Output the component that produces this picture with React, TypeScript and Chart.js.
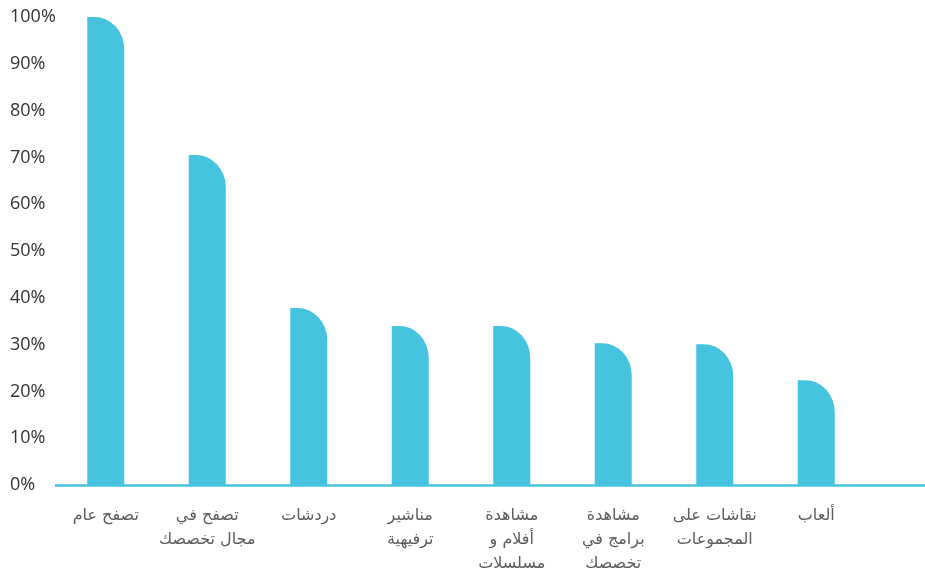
import React, { useEffect, useRef } from "react";
import { Chart, registerables } from "chart.js";

Chart.register(...registerables);

const categories: (string | string[])[] = [
  "تصفح عام",
  ["تصفح في", "مجال تخصصك"],
  "دردشات",
  ["مناشير", "ترفيهية"],
  ["مشاهدة", "أفلام و", "مسلسلات"],
  ["مشاهدة", "برامج في", "تخصصك"],
  ["نقاشات على", "المجموعات"],
  "ألعاب",
];

const values: number[] = [100, 70.5, 37.8, 34, 34, 30.3, 30.1, 22.4];

const yMin = 0;
const yMax = 100;
const yStep = 10;

const BAR_COLOR = "#46c3df";

const roundedTopRight = {
  id: "roundedTopRight",
  afterDatasetsDraw(chart: any) {
    const ctx = chart.ctx;
    const meta = chart.getDatasetMeta(0);
    ctx.save();
    ctx.fillStyle = BAR_COLOR;
    meta.data.forEach((el: any) => {
      const { x, y, base, width } = el.getProps(["x", "y", "base", "width"], true);
      const left = x - width / 2;
      const right = x + width / 2;
      const h = base - y;
      const rx = width * 0.8;
      const ry = Math.min(32, h);
      ctx.beginPath();
      ctx.moveTo(left, base);
      ctx.lineTo(left, y);
      ctx.lineTo(right - rx, y);
      ctx.ellipse(right - rx, y + ry, rx, ry, 0, -Math.PI / 2, 0);
      ctx.lineTo(right, base);
      ctx.closePath();
      ctx.fill();
    });
    const yb = chart.chartArea.bottom + 0.5;
    ctx.strokeStyle = BAR_COLOR;
    ctx.lineWidth = 2.5;
    ctx.beginPath();
    ctx.moveTo(chart.chartArea.left, yb);
    ctx.lineTo(chart.width, yb);
    ctx.stroke();
    ctx.restore();
  },
};

export default function App() {
  const ref = useRef<HTMLCanvasElement | null>(null);
  useEffect(() => {
    document.body.style.margin = "0";
    if (!ref.current) return;
    const chart = new Chart(ref.current, {
      type: "bar",
      data: {
        labels: categories,
        datasets: [
          {
            data: values,
            backgroundColor: "rgba(0,0,0,0)",
            borderWidth: 0,
            barThickness: 37,
          },
        ],
      },
      options: {
        animation: false,
        responsive: true,
        maintainAspectRatio: false,
        layout: { padding: { top: 17, left: 10, right: 58, bottom: 0 } },
        plugins: { legend: { display: false }, tooltip: { enabled: false } },
        scales: {
          x: {
            grid: { display: false },
            border: { display: false },
            ticks: {
              maxRotation: 0,
              autoSkip: false,
              padding: 11,
              color: "#5c5c5c",
              font: { family: "'DejaVu Sans', sans-serif", size: 16, lineHeight: 1.5 },
            },
            afterFit: (scale: any) => {
              scale.height = 87;
            },
          },
          y: {
            min: yMin,
            max: yMax,
            grid: { display: false },
            border: { display: false },
            ticks: {
              stepSize: yStep,
              crossAlign: "far",
              padding: 0,
              color: "#333",
              font: { family: "'Open Sans', sans-serif", size: 18 },
              callback: (v: any) => v + "%",
            },
            afterFit: (scale: any) => {
              scale.width = 45;
            },
          },
        },
      },
      plugins: [roundedTopRight],
    });
    return () => chart.destroy();
  }, []);
  return (
    <div style={{ position: "fixed", left: 0, top: 0, width: 925, height: 572 }}>
      <canvas ref={ref} />
    </div>
  );
}
